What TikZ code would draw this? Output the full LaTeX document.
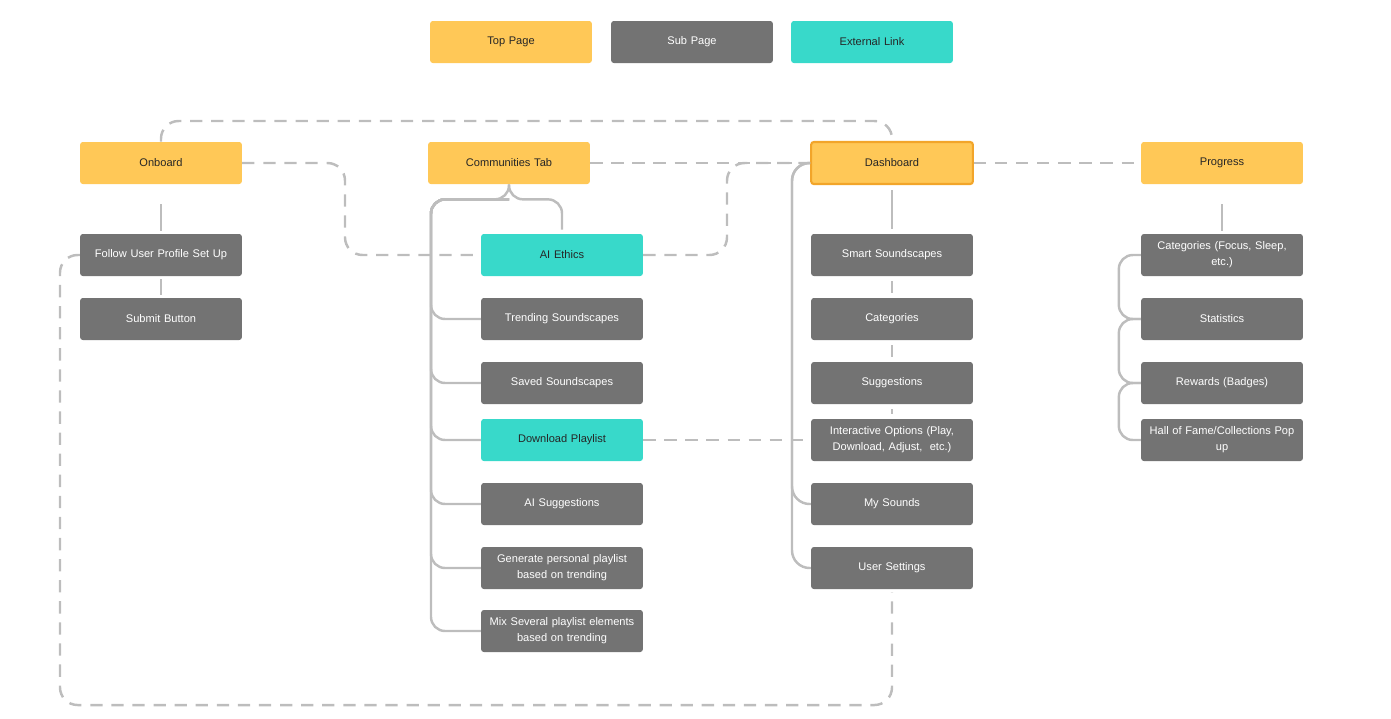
\documentclass[tikz,border=0pt]{standalone}
\usepackage{fontspec}
\setmainfont{Liberation Sans}
\usetikzlibrary{positioning}
\definecolor{topc}{HTML}{FFC857}
\definecolor{subc}{HTML}{737373}
\definecolor{extc}{HTML}{38D9CA}
\definecolor{linec}{HTML}{BDBDBD}
\definecolor{dashc}{HTML}{F2A52A}
\tikzset{
  page/.style={rectangle, rounded corners=1.5pt, minimum width=3.18cm, minimum height=0.84cm,
    align=center, text width=3.0cm, font=\fontsize{6.3}{9}\selectfont},
  toppage/.style={page, fill=topc, text=black!85},
  subpage/.style={page, fill=subc, text=white},
  extpage/.style={page, fill=extc, text=black!85},
  link/.style={draw=linec, line width=1.4pt},
  dlink/.style={link, dash pattern=on 7pt off 5pt},
}
\begin{document}
\begin{tikzpicture}[x=0.02cm, y=-0.02cm]
\useasboundingbox (0,0) rectangle (1391,718);
% legend
\node[toppage] (ltop) at (511,42) {Top Page};
\node[subpage] (lsub) at (692,42) {Sub Page};
\node[extpage] (lext) at (872,42) {External Link};
% top row
\node[toppage] (onboard) at (161,163) {Onboard};
\node[toppage] (comm) at (509,163) {Communities Tab};
\node[toppage, draw=dashc, line width=1.2pt] (dash) at (892,163) {Dashboard};
\node[toppage] (prog) at (1222,163) {Progress};
% onboard column
\node[subpage] (follow) at (161,255) {Follow User Profile Set Up};
\node[subpage] (submit) at (161,319) {Submit Button};
% communities column
\node[extpage] (ethics) at (562,255) {AI Ethics};
\node[subpage] (trend) at (562,319) {Trending Soundscapes};
\node[subpage] (saved) at (562,383) {Saved Soundscapes};
\node[extpage] (dl) at (562,440) {Download Playlist};
\node[subpage] (aisug) at (562,504) {AI Suggestions};
\node[subpage] (gen) at (562,568) {Generate personal playlist\\based on trending};
\node[subpage] (mix) at (562,631) {Mix Several playlist elements\\based on trending};
% dashboard column
\node[subpage] (smart) at (892,255) {Smart Soundscapes};
\node[subpage] (cat) at (892,319) {Categories};
\node[subpage] (sugg) at (892,383) {Suggestions};
\node[subpage] (inter) at (892,440) {Interactive Options (Play,\\Download, Adjust,\ \ etc.)};
\node[subpage] (mys) at (892,504) {My Sounds};
\node[subpage] (user) at (892,568) {User Settings};
% progress column
\node[subpage] (pcat) at (1222,255) {Categories (Focus, Sleep,\\etc.)};
\node[subpage] (stat) at (1222,319) {Statistics};
\node[subpage] (rew) at (1222,383) {Rewards (Badges)};
\node[subpage] (hall) at (1222,440) {Hall of Fame/Collections Pop\\up};
% solid links
\draw[link] ([yshift=-0.4cm]onboard.south) -- ([yshift=0.06cm]follow.north);
\draw[link] ([yshift=-0.06cm]follow.south) -- ([yshift=0.06cm]submit.north);
\draw[link] ([yshift=-0.1cm]dash.south) -- ([yshift=0.1cm]smart.north);
\foreach \a/\b in {smart/cat, cat/sugg, sugg/inter}
  \draw[link] ([yshift=-0.1cm]\a.south) -- ([yshift=0.1cm]\b.north);
\draw[link] ([yshift=-0.4cm]prog.south) -- ([yshift=0.06cm]pcat.north);
% communities bracket
\draw[link, rounded corners=8pt] (comm.south) -- ++(0,15) -| ([yshift=0.08cm]ethics.north);
\draw[link, rounded corners=8pt] (comm.south) -- ++(0,15) -| (431,631) -- (mix.west);
\foreach \n in {trend, saved, dl, aisug, gen}
  \draw[link, rounded corners=8pt] (comm.south) ++(0,15) -| (431,0 |- \n.west) -- (\n.west);
% dashboard bracket
\draw[link, rounded corners=10pt] (dash.west) -| (792,568) -- (user.west);
\draw[link, rounded corners=10pt] (dash.west) -| (792,504) -- (mys.west);
% progress brace
\foreach \a/\b in {pcat/stat, stat/rew, rew/hall}
  \draw[link, rounded corners=8pt] (\a.west) -- ++(-22,0) |- (\b.west);
% dashed links
\draw[dlink, rounded corners=10pt] (onboard.north) |- (892,121) -- (dash.north);
\draw[dlink, rounded corners=10pt] (onboard.east) -| (345,255) -- (ethics.west);
\draw[dlink] (comm.east) -- (dash.west);
\draw[dlink, rounded corners=10pt] (ethics.east) -| (727,163) -- (dash.west);
\draw[dlink] (dl.east) -- (inter.west);
\draw[dlink] (dash.east) -- (prog.west);
\draw[dlink, rounded corners=10pt] (follow.west) -| (60,705) -| ([yshift=-0.06cm]user.south);
\end{tikzpicture}
\end{document}
